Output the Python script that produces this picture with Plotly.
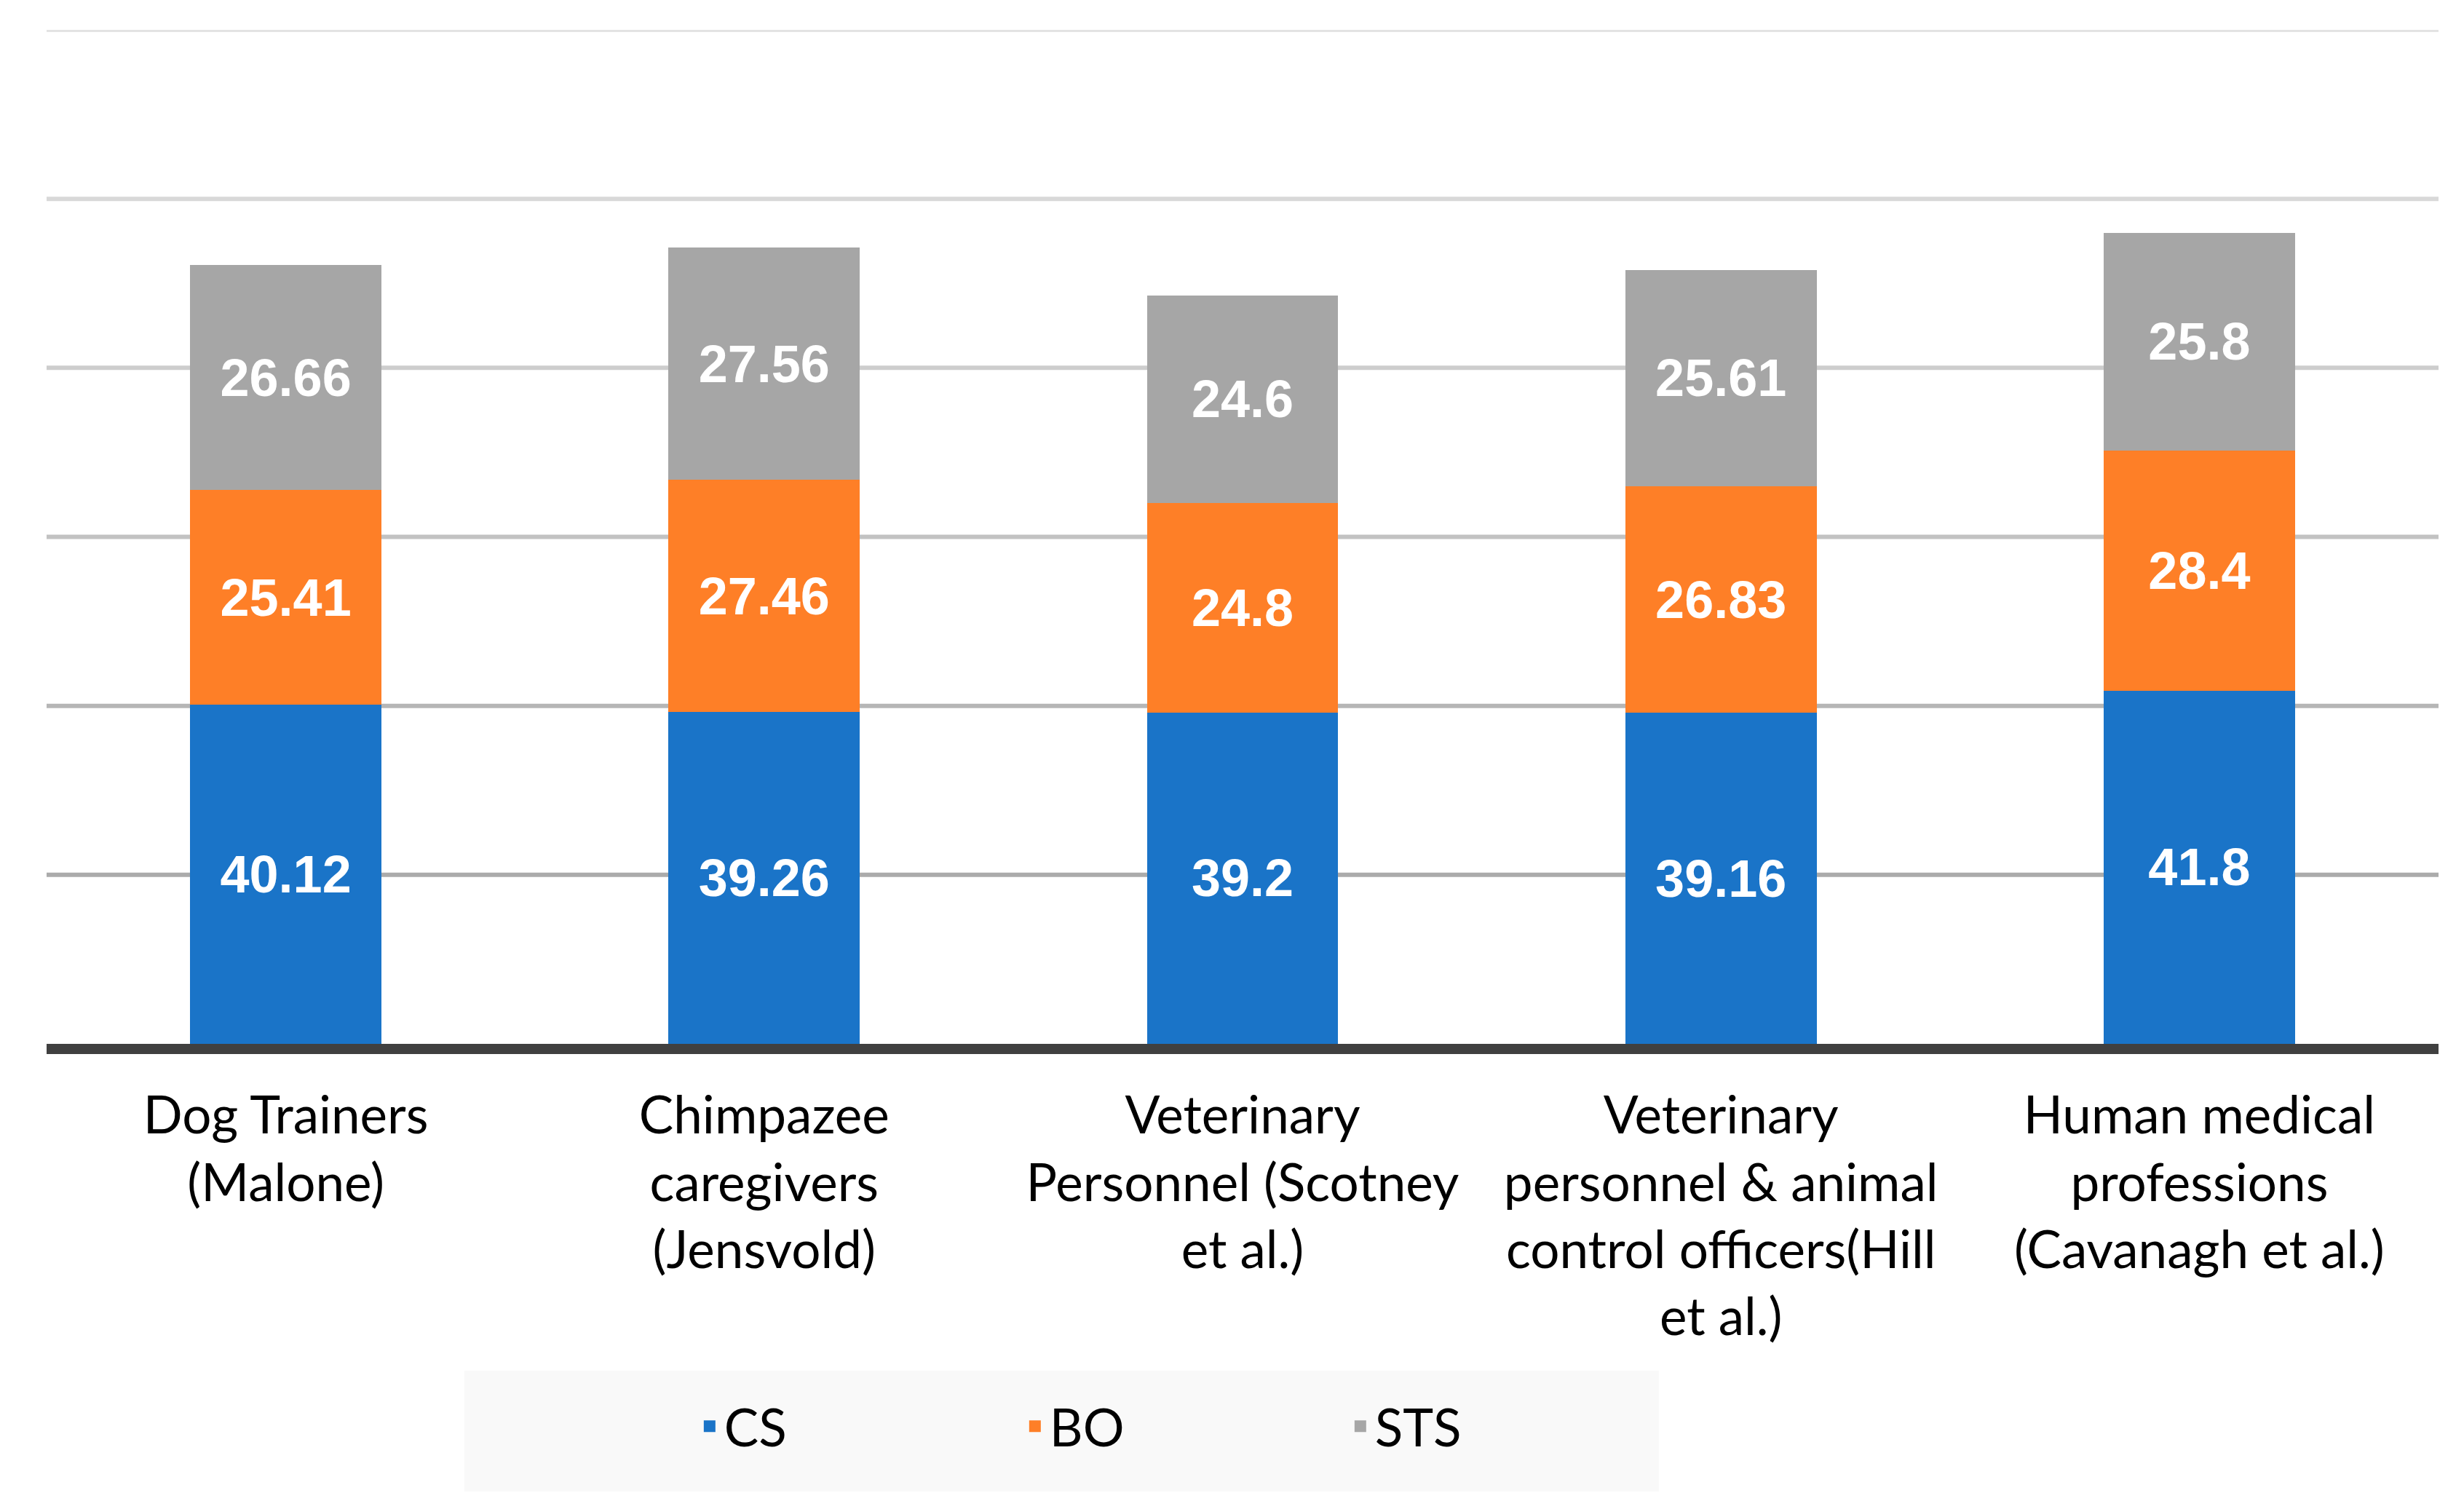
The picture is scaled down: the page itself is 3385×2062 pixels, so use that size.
import plotly.graph_objects as go

categories = [
    "Dog Trainers<br>(Malone)",
    "Chimpazee<br>caregivers<br>(Jensvold)",
    "Veterinary<br>Personnel (Scotney<br>et al.)",
    "Veterinary<br>personnel & animal<br>control officers(Hill<br>et al.)",
    "Human medical<br>professions<br>(Cavanagh et al.)",
]
cs_values = [40.12, 39.26, 39.2, 39.16, 41.8]
bo_values = [25.41, 27.46, 24.8, 26.83, 28.4]
sts_values = [26.66, 27.56, 24.6, 25.61, 25.8]
series_names = ["CS", "BO", "STS"]
series_colors = ["#1A74C8", "#FE7F27", "#A6A6A6"]
grid_levels = [20, 40, 60, 80, 100, 120]
grid_colors = ["#ABABAB", "#B6B6B6", "#C2C2C2", "#CDCDCD", "#D8D8D8", "#E3E3E3"]

W, H = 3385, 2062
# page body has an 8px margin; margins compensate so the plot lands where the reference has it
ML, MR, MT, MB = 56, 43, 33, 636

fig = go.Figure()
for name, vals, col in zip(series_names, [cs_values, bo_values, sts_values], series_colors):
    fig.add_trace(go.Bar(
        name=name, x=categories, y=vals,
        marker=dict(color=col, line=dict(width=0)),
        text=[f"{v:g}" for v in vals],
        textposition="inside", insidetextanchor="middle",
        textangle=0,
        textfont=dict(family="Liberation Sans, Arial", size=72, color="white", weight="bold"),
        hoverinfo="skip", legendgroup=name, showlegend=False,
    ))
# legend-only entries with larger square swatches
for name, col in zip(series_names, series_colors):
    fig.add_trace(go.Scatter(
        name=name, x=[None], y=[None], mode="markers",
        marker=dict(symbol="square", size=16, color=col, line=dict(width=0)),
        legendgroup=name, showlegend=True, hoverinfo="skip",
    ))

shapes = []
for lvl, gc in zip(grid_levels, grid_colors):
    shapes.append(dict(type="line", xref="paper", yref="y", x0=0, x1=1, y0=lvl, y1=lvl,
                       line=dict(color=gc, width=6), layer="below"))
# legend background box
shapes.append(dict(type="rect", xref="paper", yref="paper",
                   x0=0.1747, x1=0.6741, y0=-0.4415, y1=-0.3223,
                   fillcolor="#F9F9F9", line=dict(width=0), layer="below"))

fig.update_layout(
    width=W, height=H,
    margin=dict(l=ML, r=MR, t=MT, b=MB, pad=0),
    barmode="stack", bargap=0.6,
    plot_bgcolor="white", paper_bgcolor="white",
    font=dict(family="Lato", size=71, color="#000000"),
    shapes=shapes,
    showlegend=True,
    legend=dict(orientation="h", x=0.2711, xanchor="left", y=-0.3773, yanchor="middle",
                bgcolor="rgba(0,0,0,0)", font=dict(family="Lato", size=71, color="#000000"),
                entrywidth=402, traceorder="normal", itemsizing="trace"),
    xaxis=dict(showline=True, linecolor="#404040", linewidth=14, ticks="",
               tickfont=dict(family="Lato", size=71, color="#000000"),
               ticklabelstandoff=24, showgrid=False, zeroline=False, fixedrange=True),
    yaxis=dict(range=[0, 120], showgrid=False, zeroline=False, showticklabels=False,
               showline=False, fixedrange=True),
)

fig.write_html("out.html")
